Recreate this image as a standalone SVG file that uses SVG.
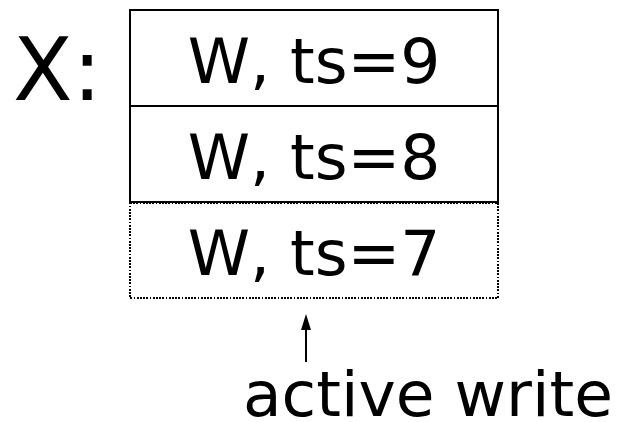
<svg xmlns="http://www.w3.org/2000/svg" width="618" height="422" viewBox="0 0 618 422">
  <defs>
    <style>
      .lbl { font-family: "DejaVu Sans", "Liberation Sans", sans-serif; fill: #000; }
      .cell { fill: #fff; stroke: #000; stroke-width: 2; }
      .dotted { fill: none; stroke: #000; stroke-width: 2; stroke-dasharray: 1.8 1.4; shape-rendering: crispEdges; }
      .conn { stroke: #000; stroke-width: 2; fill: none; }
      .head { fill: #000; stroke: none; }
    </style>
  </defs>

  <g id="label-x">
    <text class="lbl" x="13" y="100" font-size="87">X:</text>
  </g>

  <g id="cell-ts9">
    <rect class="cell" x="130" y="10" width="368" height="96"/>
    <text class="lbl" x="314" y="83" font-size="63" text-anchor="middle">W, ts=9</text>
  </g>

  <g id="cell-ts8">
    <rect class="cell" x="130" y="106" width="368" height="96"/>
    <text class="lbl" x="314" y="179" font-size="63" text-anchor="middle">W, ts=8</text>
  </g>

  <g id="cell-ts7">
    <rect class="dotted" x="130" y="203" width="368" height="95"/>
    <text class="lbl" x="314" y="275" font-size="63" text-anchor="middle">W, ts=7</text>
  </g>

  <g id="connectors">
    <line class="conn" x1="306" y1="362" x2="306" y2="328"/>
    <polygon class="head" points="306,314 311,330 301,330"/>
  </g>

  <g id="label-active">
    <text class="lbl" x="243" y="416" font-size="63">active write</text>
  </g>
</svg>
